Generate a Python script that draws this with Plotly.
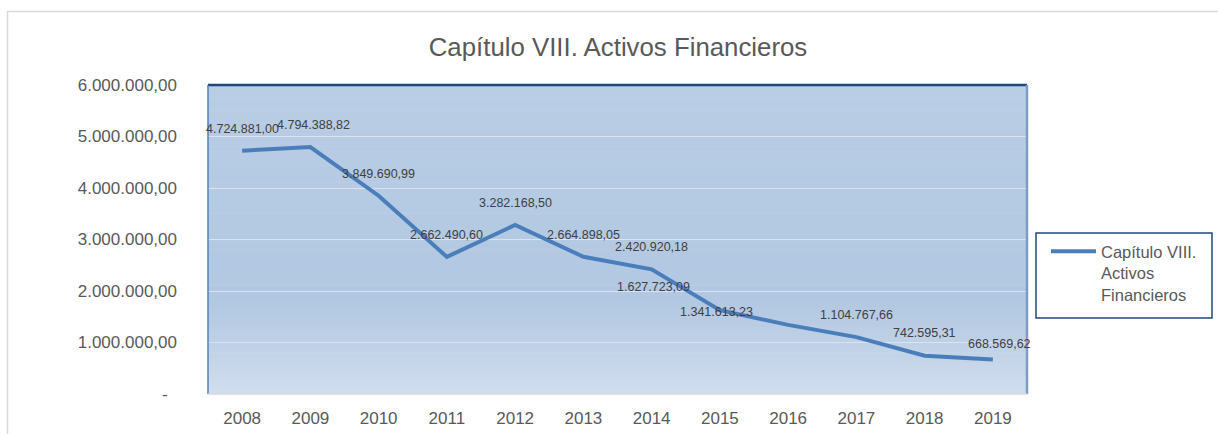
import plotly.graph_objects as go

# ---- data ----
years = ["2008", "2009", "2010", "2011", "2012", "2013", "2014", "2015", "2016", "2017", "2018", "2019"]
values = [4724881.00, 4794388.82, 3849690.99, 2662490.60, 3282168.50, 2664898.05,
          2420920.18, 1627723.09, 1341613.23, 1104767.66, 742595.31, 668569.62]
y_tickvals = [0, 1000000, 2000000, 3000000, 4000000, 5000000, 6000000]
y_ticktext = ["-\u00a0\u00a0", "1.000.000,00", "2.000.000,00", "3.000.000,00",
              "4.000.000,00", "5.000.000,00", "6.000.000,00"]
series_name = "Capítulo VIII.<br>Activos<br>Financieros"
title_text = "Capítulo VIII. Activos Financieros"

# label offsets (px) for data labels: (dx, dy)
label_offsets = [(0, 22), (3, 22), (0, 22), (0, 22), (0, 22), (0, 22),
                 (0, 22), (-66, 23), (-72, 13), (0, 22), (0, 23), (7, 16)]


def es_fmt(v):
    s = f"{v:,.2f}"
    return s.replace(",", "X").replace(".", ",").replace("X", ".")


FONT = "Liberation Sans, Arial, sans-serif"
W, H = 1218, 434
ML, MR, MT, MB = 208, 191, 85, 40
PW = W - ML - MR
PH = H - MT - MB


def px_x(px):
    return (px - ML) / PW


def px_y(py):
    return (H - MB - py) / PH


fig = go.Figure()
fig.add_trace(go.Scatter(
    x=years, y=values, mode="lines", name=series_name,
    line=dict(color="#4A7EBB", width=4),
    hoverinfo="skip",
))

# data labels (x given as category serial number)
annotations = []
for i, (v, (dx, dy)) in enumerate(zip(values, label_offsets)):
    annotations.append(dict(x=i, y=v, xref="x", yref="y", text=es_fmt(v), showarrow=False,
                            xshift=dx, yshift=dy, xanchor="center", yanchor="middle",
                            font=dict(family=FONT, size=12.5, color="#404040")))

shapes = []


def lerp(c1, c2, t):
    return tuple(int(round(a + (b - a) * t)) for a, b in zip(c1, c2))


top_c = (185, 205, 229)
mid_c = (178, 199, 225)
bot_c = (208, 221, 237)
N = 60
for k in range(N):
    f0 = k / N
    f1 = (k + 1) / N
    fc = (f0 + f1) / 2  # fraction from bottom
    if fc < 0.3:
        c = lerp(bot_c, mid_c, fc / 0.3)
    else:
        c = lerp(mid_c, top_c, (fc - 0.3) / 0.7)
    shapes.append(dict(type="rect", xref="paper", yref="paper", x0=0, x1=1, y0=f0, y1=f1 + 0.002,
                       fillcolor="rgb(%d,%d,%d)" % c, line=dict(width=0), layer="below"))

# plot area borders
shapes.append(dict(type="line", xref="paper", yref="paper", x0=0, x1=1, y0=1, y1=1,
                   line=dict(color="#1F497D", width=2.5)))
shapes.append(dict(type="line", xref="paper", yref="paper", x0=0, x1=0, y0=0, y1=1,
                   line=dict(color="#4F81BD", width=1.5)))
shapes.append(dict(type="line", xref="paper", yref="paper", x0=1, x1=1, y0=0, y1=1,
                   line=dict(color="#7D9BC8", width=2.5)))
shapes.append(dict(type="line", xref="paper", yref="paper", x0=0, x1=1, y0=0, y1=0,
                   line=dict(color="#D9D9D9", width=1.5)))
# outer chart border
shapes.append(dict(type="rect", xref="paper", yref="paper",
                   x0=px_x(7.5), x1=px_x(1240), y0=px_y(450), y1=px_y(11.5),
                   line=dict(color="#D9D9D9", width=1.5), fillcolor="rgba(0,0,0,0)", layer="below"))
# legend box
shapes.append(dict(type="rect", xref="paper", yref="paper",
                   x0=px_x(1036), x1=px_x(1212), y0=px_y(318), y1=px_y(233),
                   line=dict(color="#1F497D", width=1.5), fillcolor="white", layer="below"))

fig.update_layout(
    width=W, height=H, autosize=False,
    margin=dict(l=ML, r=MR, t=MT, b=MB, pad=0, autoexpand=False),
    paper_bgcolor="white", plot_bgcolor="rgba(0,0,0,0)",
    title=dict(text=title_text, x=618 / W, xanchor="center", xref="container",
               y=1 - 47 / H, yanchor="middle", yref="container",
               font=dict(family=FONT, size=25.8, color="#595959")),
    font=dict(family=FONT, color="#595959"),
    showlegend=True,
    legend=dict(x=px_x(1046), y=px_y(234), xanchor="left", yanchor="top",
                bgcolor="rgba(0,0,0,0)", borderwidth=0, valign="top",
                itemwidth=45,
                font=dict(family=FONT, size=16.5, color="#595959")),
    shapes=shapes,
    annotations=annotations,
    xaxis=dict(type="category", range=[-0.5, 11.5], showgrid=False, zeroline=False,
               showline=False, ticks="", ticklabelstandoff=12,
               tickfont=dict(family=FONT, size=17, color="#595959"), fixedrange=True),
    yaxis=dict(range=[0, 6000000], tickvals=y_tickvals, ticktext=y_ticktext,
               showgrid=True, gridcolor="#DCE3EE", gridwidth=1, zeroline=False,
               showline=False, ticks="", ticklabelstandoff=30,
               tickfont=dict(family=FONT, size=17, color="#595959"), fixedrange=True),
)

fig.write_html("out.html", config={"displayModeBar": False},
               post_script="document.body.style.margin='0';")
